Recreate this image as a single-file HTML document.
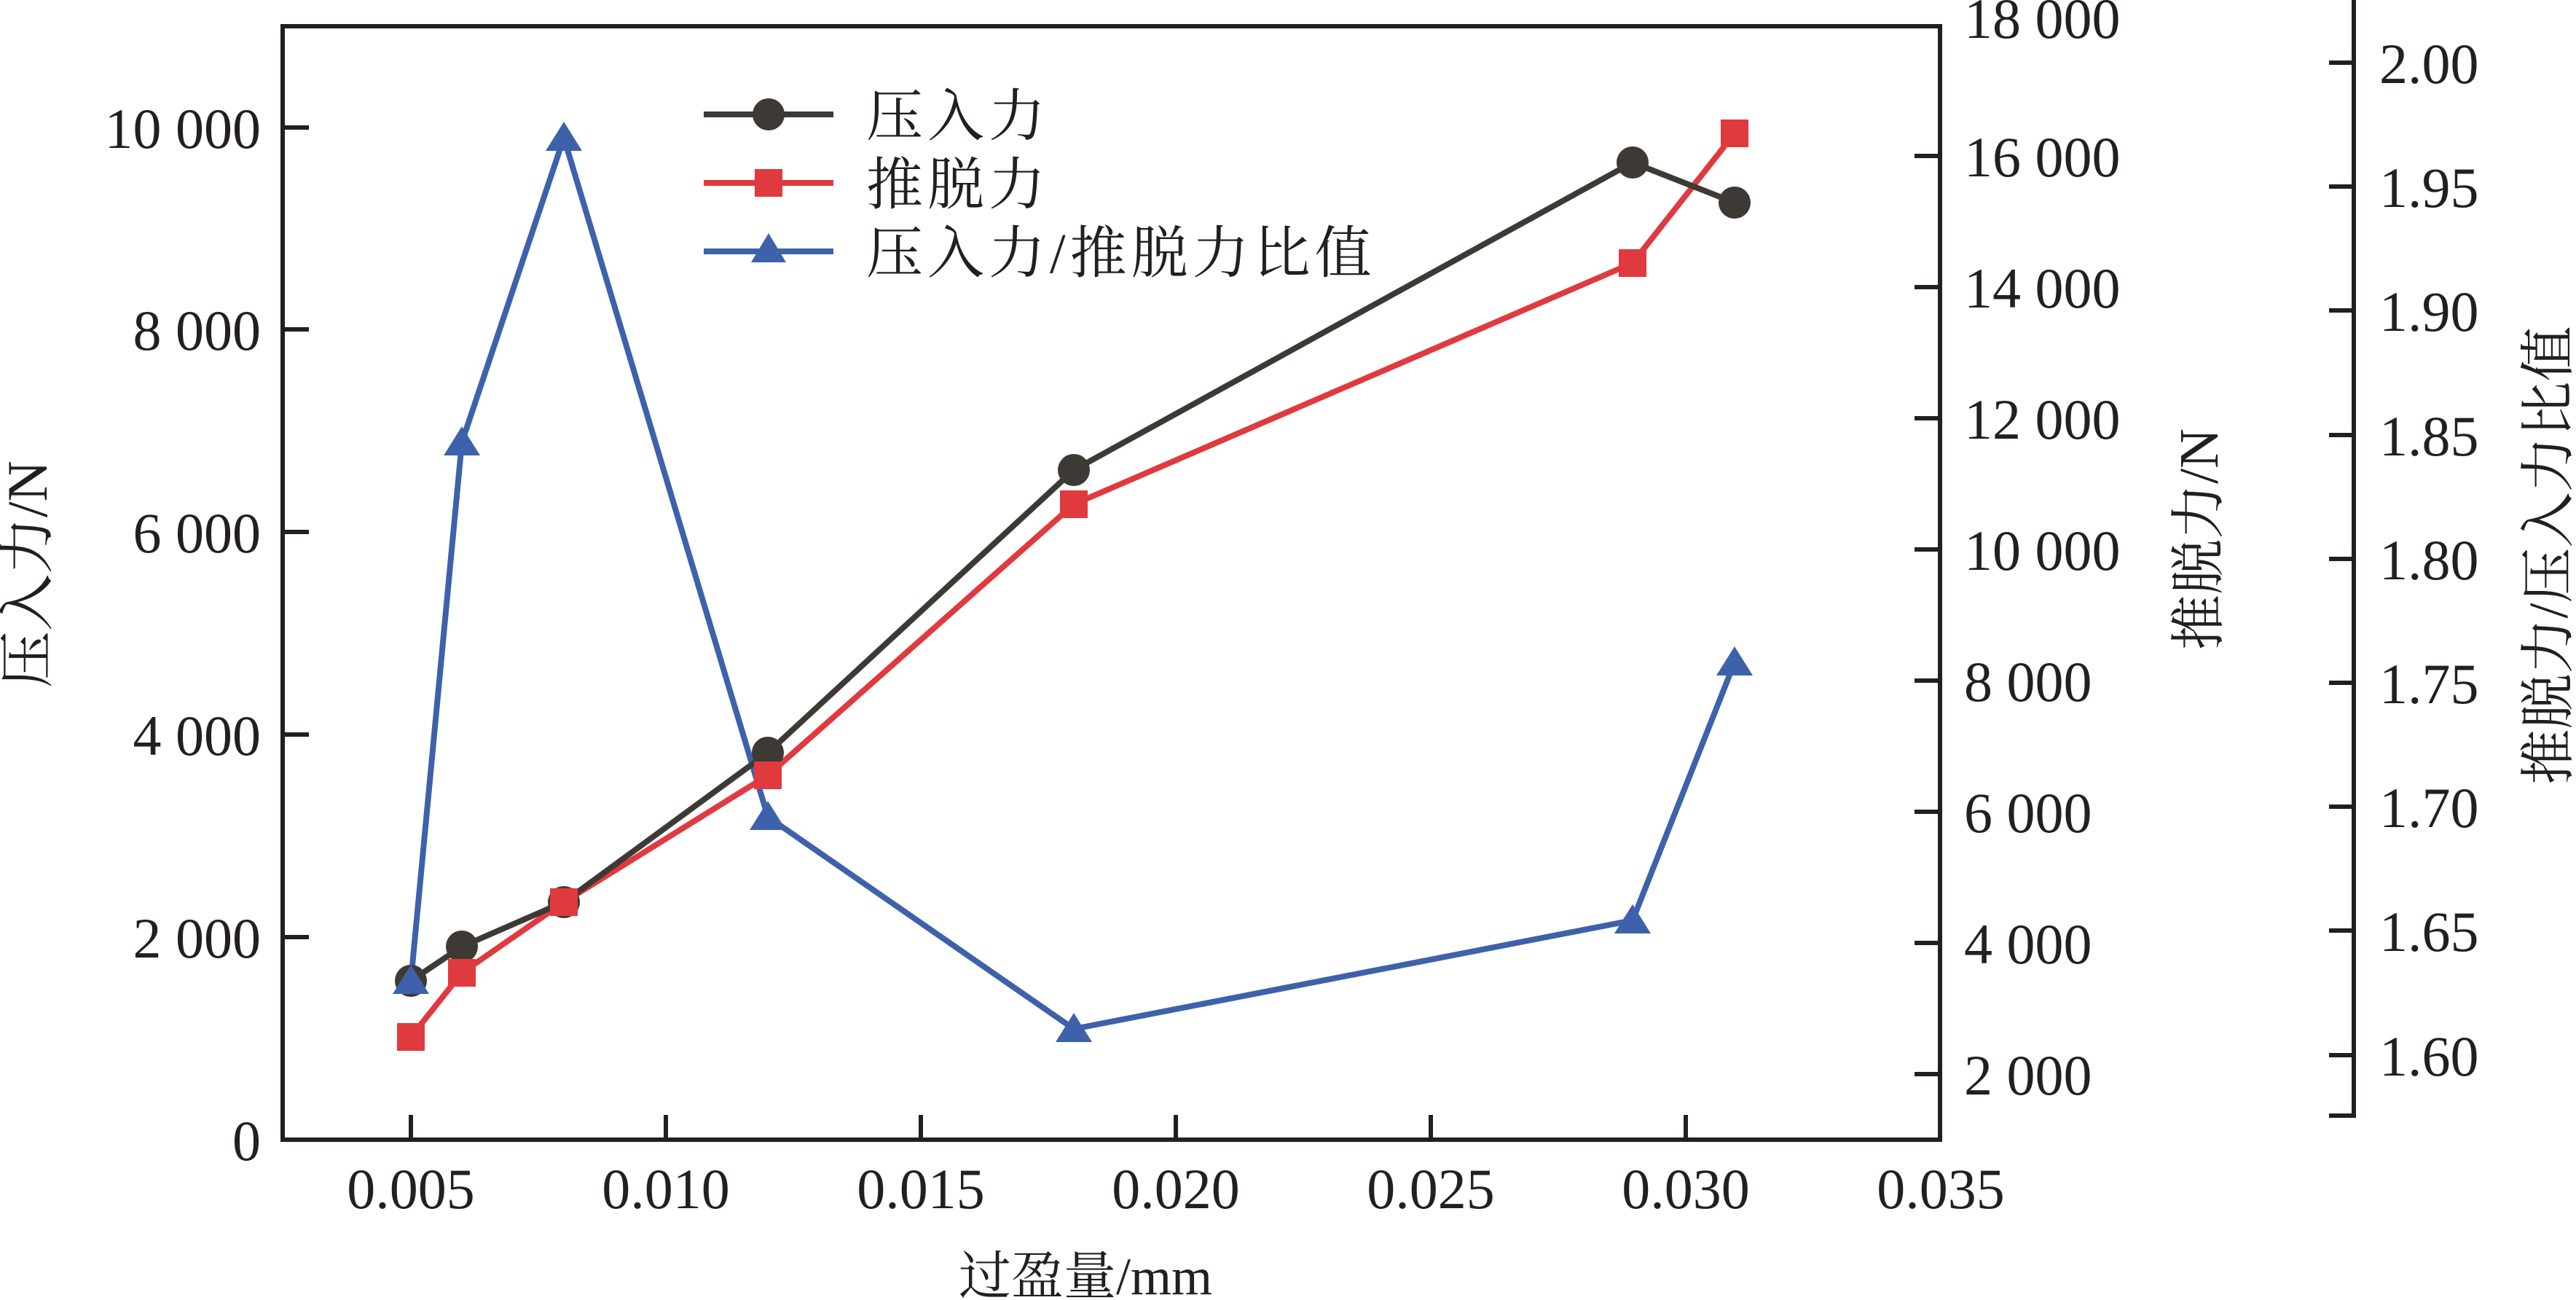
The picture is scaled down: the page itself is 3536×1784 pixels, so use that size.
<!DOCTYPE html>
<html><head><meta charset="utf-8"><style>html,body{margin:0;padding:0;background:#fff}svg{display:block}</style></head>
<body>
<svg width="3536" height="1784" viewBox="0 0 3536 1784" xmlns="http://www.w3.org/2000/svg">
<g stroke="#231f20" stroke-width="6" fill="none">
<rect x="388" y="36" width="2275" height="1528"/>
<path d="M564 1564V1530M914 1564V1530M1264 1564V1530M1614 1564V1530M1964 1564V1530M2314 1564V1530"/>
<path d="M388 1286H424M388 1008H424M388 730H424M388 452H424M388 175H424"/>
<path d="M2663 1474H2628M2663 1294H2628M2663 1114H2628M2663 934H2628M2663 754H2628M2663 574H2628M2663 394H2628M2663 214H2628"/>
<path d="M3231 0V1531H3197M3231 86H3197M3231 256H3197M3231 426H3197M3231 597H3197M3231 767H3197M3231 937H3197M3231 1107H3197M3231 1277H3197M3231 1448H3197"/>
</g>
<g font-family="Liberation Serif, serif" font-size="78" fill="#231f20">
<g text-anchor="middle">
<text x="564" y="1658">0.005</text><text x="914" y="1658">0.010</text><text x="1264" y="1658">0.015</text><text x="1614" y="1658">0.020</text><text x="1964" y="1658">0.025</text><text x="2314" y="1658">0.030</text><text x="2664" y="1658">0.035</text>
</g>
<g text-anchor="end">
<text x="358" y="1592">0</text><text x="358" y="1314">2 000</text><text x="358" y="1036">4 000</text><text x="358" y="758">6 000</text><text x="358" y="480">8 000</text><text x="358" y="203">10 000</text>
</g>
<text x="2696" y="1502">2 000</text><text x="2696" y="1322">4 000</text><text x="2696" y="1142">6 000</text><text x="2696" y="962">8 000</text><text x="2696" y="782">10 000</text><text x="2696" y="602">12 000</text><text x="2696" y="422">14 000</text><text x="2696" y="242">16 000</text><text x="2696" y="52">18 000</text>
<text x="3266" y="114">2.00</text><text x="3266" y="284">1.95</text><text x="3266" y="454">1.90</text><text x="3266" y="625">1.85</text><text x="3266" y="795">1.80</text><text x="3266" y="965">1.75</text><text x="3266" y="1135">1.70</text><text x="3266" y="1305">1.65</text><text x="3266" y="1476">1.60</text>
</g>
<g font-family="Liberation Serif, Noto Serif CJK SC, serif" font-size="72" fill="#231f20">
<text x="1490" y="1776" text-anchor="middle">过盈量/mm</text>
<text transform="translate(64 788) rotate(-90)" text-anchor="middle" font-size="78">压入力/N</text>
<text transform="translate(3044 740) rotate(-90)" text-anchor="middle" font-size="76">推脱力/N</text>
<text transform="translate(3524 762) rotate(-90)" text-anchor="middle" font-size="76">推脱力/压入力比值</text>
<g font-size="78" letter-spacing="6">
<text x="1189" y="186">压入力</text>
<text x="1189" y="280">推脱力</text>
<text x="1189" y="374">压入力/推脱力比值</text>
</g>
</g>
<g stroke-width="8" fill="none" stroke-linejoin="round">
<polyline stroke="#3d62ab" points="564,1346 634,607 774,189 1054,1121 1474,1412 2241,1263 2381,909"/>
<polyline stroke="#e03a3e" points="564,1423 634,1335 774,1238 1054,1064 1474,692 2241,361 2381,183"/>
<polyline stroke="#3d3935" points="564,1346 634,1299 774,1238 1054,1033 1474,645 2241,223 2381,278"/>
</g>
<g fill="#3d3935">
<circle cx="564" cy="1346" r="22"/><circle cx="634" cy="1299" r="22"/><circle cx="774" cy="1238" r="22"/><circle cx="1054" cy="1033" r="22"/><circle cx="1474" cy="645" r="22"/><circle cx="2241" cy="223" r="22"/><circle cx="2381" cy="278" r="22"/>
</g>
<g fill="#e03a3e">
<rect x="545" y="1404" width="38" height="38"/><rect x="615" y="1316" width="38" height="38"/><rect x="755" y="1219" width="38" height="38"/><rect x="1035" y="1045" width="38" height="38"/><rect x="1455" y="673" width="38" height="38"/><rect x="2222" y="342" width="38" height="38"/><rect x="2362" y="164" width="38" height="38"/>
</g>
<g fill="#3d62ab">
<path d="M564 1324l-25 40h50z"/><path d="M634 585l-25 40h50z"/><path d="M774 167l-25 40h50z"/><path d="M1054 1099l-25 40h50z"/><path d="M1474 1390l-25 40h50z"/><path d="M2241 1241l-25 40h50z"/><path d="M2381 887l-25 40h50z"/>
</g>
<g stroke-width="8">
<line x1="966" y1="157" x2="1144" y2="157" stroke="#3d3935"/>
<line x1="966" y1="251" x2="1144" y2="251" stroke="#e03a3e"/>
<line x1="966" y1="345" x2="1144" y2="345" stroke="#3d62ab"/>
</g>
<circle cx="1055" cy="157" r="22" fill="#3d3935"/>
<rect x="1036" y="232" width="38" height="38" fill="#e03a3e"/>
<path d="M1055 320l-24 40h48z" fill="#3d62ab"/>
</svg>
</body></html>
